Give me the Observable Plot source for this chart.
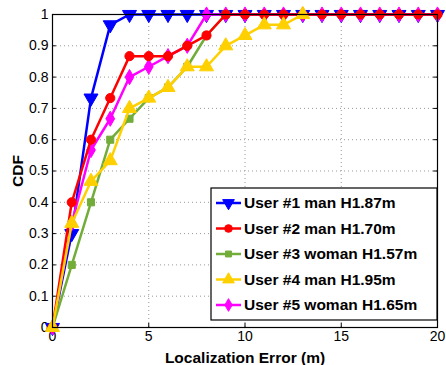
<!DOCTYPE html>
<html><head><meta charset="utf-8">
<script src="https://cdn.jsdelivr.net/npm/d3@7"></script>
<script src="https://cdn.jsdelivr.net/npm/@observablehq/plot@0.6"></script>
<style>
body{margin:0;background:#fff;font-family:"Liberation Sans",Arial,sans-serif;}
#chart{position:relative;width:446px;height:365px;}
</style></head><body><div id="chart"></div>
<script>
const errors1 = d3.range(0, 21);
const user1 = [0,0.3,0.733,0.967,1,1,1,1,1,1,1,1,1,1,1,1,1,1,1,1,1];
const errors2 = d3.range(0, 21);
const user2 = [0,0.4,0.6,0.733,0.867,0.867,0.867,0.9,0.933,1,1,1,1,1,1,1,1,1,1,1,1];
const errors3 = d3.range(0, 10);
const user3 = [0,0.2,0.4,0.6,0.667,0.733,0.767,0.833,0.933,1];
const errors4 = d3.range(0, 14);
const user4 = [0,0.333,0.467,0.533,0.7,0.733,0.767,0.833,0.833,0.9,0.933,0.967,0.967,1];
const errors5 = d3.range(0, 21);
const user5 = [0,0.333,0.567,0.667,0.8,0.833,0.867,0.9,1,1,1,1,1,1,1,1,1,1,1,1,1];
const names = ["User #1 man H1.87m","User #2 man H1.70m","User #3 woman H1.57m","User #4 man H1.95m","User #5 woman H1.65m"];
const xTicks = [0,5,10,15,20];
const yTicks = [0,0.1,0.2,0.3,0.4,0.5,0.6,0.7,0.8,0.9,1];

const series = [
  {name:names[0], xs:errors1, vals:user1, color:"#0000ff", symbol:"triangle", rotate:180, r:5.2},
  {name:names[4], xs:errors5, vals:user5, color:"#ff00ff", symbol:"diamond", rotate:0, r:4.6},
  {name:names[2], xs:errors3, vals:user3, color:"#72ad3a", symbol:"square", rotate:0, r:4.0},
  {name:names[1], xs:errors2, vals:user2, color:"#ff0000", symbol:"circle", rotate:0, r:4.6},
  {name:names[3], xs:errors4, vals:user4, color:"#ffd000", symbol:"triangle", rotate:0, r:5.2}
];
const legendOrder = [0,3,2,4,1];

const marks = [
  Plot.ruleX(xTicks.filter(d=>d>0&&d<20), {stroke:"#999", strokeDasharray:"1,3", strokeWidth:1}),
  Plot.ruleY(yTicks.filter(d=>d>0&&d<1), {stroke:"#999", strokeDasharray:"1,3", strokeWidth:1}),
  Plot.ruleX(xTicks, {y1:0, y2:0.013, stroke:"#000"}),
  Plot.ruleX(xTicks, {y1:1, y2:0.987, stroke:"#000"}),
  Plot.ruleY(yTicks, {x1:0, x2:0.2, stroke:"#000"}),
  Plot.ruleY(yTicks, {x1:20, x2:19.8, stroke:"#000"}),
];
for (const s of series) {
  const data = s.xs.map((e,i)=>({e, v:s.vals[i]}));
  marks.push(Plot.line(data, {x:"e", y:"v", stroke:s.color, strokeWidth:2.5}));
  marks.push(Plot.dot(data, {x:"e", y:"v", fill:s.color, stroke:s.color, strokeWidth:1, symbol:s.symbol, rotate:s.rotate, r:s.r}));
}
marks.push(Plot.frame({stroke:"#000", strokeWidth:1.2}));

const plot = Plot.plot({
  width:446, height:365,
  marginLeft:52, marginRight:9, marginTop:14, marginBottom:38,
  style:{fontFamily:"Liberation Sans, Arial, sans-serif", fontSize:"14px", background:"#fff", color:"#000"},
  x:{domain:[0,20], ticks:xTicks, tickSize:0, tickPadding:4, label:"Localization Error (m)", labelAnchor:"center", labelOffset:35},
  y:{domain:[0,1], ticks:yTicks, tickSize:0, tickPadding:4, tickFormat:d=>d===0?"0":d===1?"1":d3.format(".1f")(d), label:"CDF", labelAnchor:"center", labelOffset:41, labelArrow:"none"},
  marks
});
document.getElementById("chart").appendChild(plot);
const svg = d3.select(plot);
svg.selectAll("[aria-label='x-axis label'] text, [aria-label='y-axis label'] text").style("font-weight","bold").style("font-size","15.5px");
svg.selectAll("[aria-label='x-axis label'] text").text("Localization Error (m)");

// legend
const lg = svg.append("g").attr("transform","translate(211,188)").attr("text-anchor","start");
lg.append("rect").attr("width",226).attr("height",132).attr("fill","#fff").attr("stroke","#000").attr("stroke-width",1.2);
legendOrder.forEach((si,i)=>{
  const s = series[si];
  const y = 15 + i*25.5;
  const g = lg.append("g").attr("transform",`translate(0,${y})`);
  g.append("line").attr("x1",5).attr("x2",30).attr("stroke",s.color).attr("stroke-width",2.5);
  const sym = {triangle:d3.symbolTriangle, circle:d3.symbolCircle, square:d3.symbolSquare, diamond:d3.symbolDiamond}[s.symbol];
  g.append("path").attr("d", d3.symbol(sym, Math.PI*s.r*s.r*0.7)()).attr("transform",`translate(17.5,0) rotate(${s.rotate})`).attr("fill",s.color).attr("stroke",s.color);
  g.append("text").attr("x",33).attr("y",0).attr("dy","0.35em").attr("text-anchor","start").attr("font-weight","bold").attr("font-size","15.5px").attr("fill","#000").text(s.name);
});
</script></body></html>
